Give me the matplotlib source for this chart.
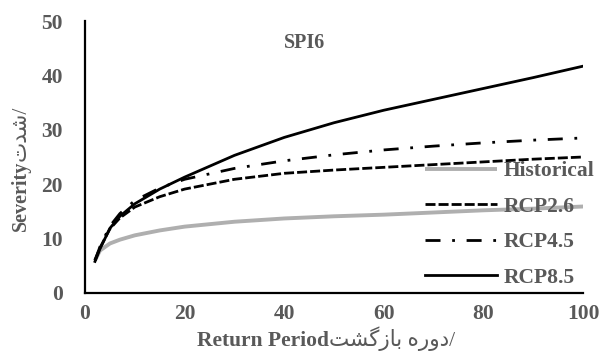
import matplotlib
matplotlib.use("Agg")
import matplotlib.pyplot as plt

# Data
return_period = [2, 3, 5, 7, 10, 15, 20, 30, 40, 50, 60, 70, 80, 90, 100]
historical = [6.0, 7.8, 9.1, 9.8, 10.6, 11.5, 12.2, 13.1, 13.7, 14.1, 14.4, 14.8, 15.2, 15.5, 15.9]
rcp26 = [6.0, 8.3, 11.8, 13.8, 15.8, 17.7, 19.1, 20.9, 22.0, 22.6, 23.1, 23.6, 24.1, 24.6, 25.0]
rcp45 = [6.0, 8.5, 12.3, 14.6, 17.0, 19.3, 20.9, 22.9, 24.3, 25.4, 26.3, 27.0, 27.6, 28.1, 28.5]
rcp85 = [5.8, 8.1, 11.9, 14.1, 16.4, 19.1, 21.3, 25.3, 28.6, 31.3, 33.6, 35.6, 37.6, 39.6, 41.7]
series_names = ["Historical", "RCP2.6", "RCP4.5", "RCP8.5"]
x_ticks = [0, 20, 40, 60, 80, 100]
y_ticks = [0, 10, 20, 30, 40, 50]

plt.rcParams['font.family'] = ['Liberation Serif', 'DejaVu Sans']
gray_txt = '#595959'
fs = 15.5

fig = plt.figure(figsize=(6.03, 3.56), dpi=100)
ax = fig.add_axes([0.141, 0.177, 0.826, 0.764])

ax.plot(return_period, historical, color='#AFAFAF', lw=2.8, solid_capstyle='butt', label=series_names[0])
ax.plot(return_period, rcp26, color='black', lw=2.0, linestyle=(0, (3.6, 1.1)), label=series_names[1])
ax.plot(return_period, rcp45, color='black', lw=2.0, linestyle=(0, (5.4, 4.2, 1.0, 4.2)), label=series_names[2])
ax.plot(return_period, rcp85, color='black', lw=2.0, label=series_names[3])

ax.set_xlim(0, 100)
ax.set_ylim(0, 50)
ax.set_xticks(x_ticks)
ax.set_yticks(y_ticks)
for s in ['top', 'right']:
    ax.spines[s].set_visible(False)
for s in ['left', 'bottom']:
    ax.spines[s].set_linewidth(1.6)
    ax.spines[s].set_color('black')
ax.tick_params(axis='x', length=0, labelsize=fs, labelcolor=gray_txt, pad=8)
ax.tick_params(axis='y', length=0, labelsize=fs, labelcolor=gray_txt, pad=16)
for lab in ax.get_xticklabels() + ax.get_yticklabels():
    lab.set_fontweight('bold')

# x axis label: English (bold) followed by Persian (regular)
xl = fig.text(197 / 603, 1 - 346 / 356, "Return Period", fontsize=fs, fontweight='bold',
              color=gray_txt, ha='left', va='baseline')
ax.annotate("\uFE96\uFEB8\uFB94\uFEAF\uFE8E\uFE91 \uFEE9\uFEAD\uFEED\uFEA9/", xy=(1, 0), xycoords=xl,
            fontsize=15.5, color=gray_txt, ha='left', va='bottom')

# y axis label: English (bold) followed by Persian (regular), rotated
yl = fig.text(21 / 603, 1 - 231 / 356, "Severity", fontsize=14.5, fontweight='bold',
              color=gray_txt, ha='center', va='bottom', rotation=90)
ax.annotate("\uFE95\uFEAA\uFEB7/", xy=(0.5, 1), xycoords=yl,
            fontsize=15.5, color=gray_txt, ha='center', va='bottom', rotation=90)

ax.text(44, 46, "SPI6", fontsize=14.5, fontweight='bold', color=gray_txt, ha='center', va='center')

leg = ax.legend(loc='upper left', bbox_to_anchor=(0.666, 0.517), frameon=False,
                fontsize=fs, handlelength=3.35, labelspacing=0.72, handletextpad=0.3,
                borderaxespad=0)
for t in leg.get_texts():
    t.set_color(gray_txt)
    t.set_fontweight('bold')

fig.savefig("out.png", dpi=100)
